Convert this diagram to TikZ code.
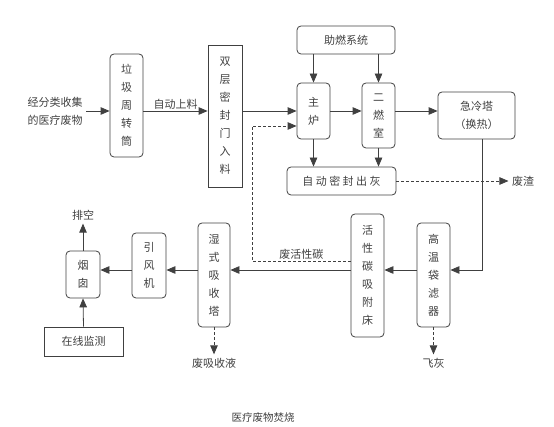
\documentclass[tikz,border=0pt]{standalone}
\usepackage{fontspec}
\setmainfont{Noto Sans CJK SC}
\usepackage{tikz}
\usetikzlibrary{arrows.meta,positioning}

\begin{document}
\begin{tikzpicture}[
    x=1pt, y=-1pt,
    every node/.style={text=black!75, font=\fontsize{11}{18}\selectfont},
    stage/.style={draw=black!75, line width=0.8pt, rounded corners=4pt, align=center, inner sep=0pt},
    plain/.style={draw=black!75, line width=0.8pt, align=center, inner sep=0pt},
    flow/.style={draw=black!75, line width=0.8pt, -{Triangle[length=9pt,width=7.5pt]}},
    waste flow/.style={flow, densely dashed},
    lbl/.style={inner sep=1pt}
]
\useasboundingbox (0,0) rectangle (554,427);
\coordinate (feed) at (0,111);
\coordinate (lane) at (0,270);
\coordinate (back) at (252,261);
\coordinate (back top) at (252,126);
\coordinate (drop) at (482,0);

% Feed line
\node[align=center] (in) at (55,111) {经分类收集\\的医疗废物};
\node[stage, minimum width=33pt, minimum height=103pt] (bin) at (126.5,105.5) {垃\\圾\\周\\转\\筒};
\node[plain, minimum width=34pt, minimum height=142pt] (door) at (225,116) {双\\层\\密\\封\\门\\入\\料};

% Furnaces
\node[stage, minimum width=98pt, minimum height=28pt] (aid) at (346,40) {助燃系统};
\node[stage, minimum width=33pt, minimum height=56pt] (furnace) at (313.5,111) {主\\炉};
\node[stage, minimum width=33pt, minimum height=65pt] (second) at (378.5,115.5) {二\\燃\\室};
\node[stage, minimum width=77pt, minimum height=47pt] (quench) at (476.5,115.5) {急冷塔\\（换热）};
\node[stage, minimum width=109pt, minimum height=28pt] (ash) at (341.5,181) {自~动~密~封~出~灰};
\node (slag) at (523,181) {废渣};

% Flue gas cleaning
\node[stage, minimum width=33pt, minimum height=104pt] (filter) at (433.5,275) {高\\温\\袋\\滤\\器};
\node[stage, minimum width=33pt, minimum height=123pt] (carbon) at (367.5,275.5) {活\\性\\碳\\吸\\附\\床};
\node[stage, minimum width=32pt, minimum height=104pt] (scrubber) at (214,275) {湿\\式\\吸\\收\\塔};
\node[stage, minimum width=34pt, minimum height=65pt] (fan) at (149,265.5) {引\\风\\机};
\node[stage, minimum width=34pt, minimum height=47pt] (chimney) at (83,274.5) {烟\\囱};
\node[plain, minimum width=79pt, minimum height=29pt] (monitor) at (83.5,341.5) {在线监测};
\node (vent) at (83,215) {排空};
\node (fly) at (433.5,363) {飞灰};
\node (liquor) at (214,363) {废吸收液};
\node[font=\fontsize{10.5}{12}\selectfont] (title) at (263,418) {医疗废物焚烧};

% Feed
\draw[flow] (in.east |- feed) -- (bin.west |- feed);
\draw[flow] (bin.east |- feed) -- node[above, lbl] {自动上料} (door.west |- feed);
\draw[flow] (door.east |- feed) -- (furnace.west |- feed);
\draw[flow] (furnace.east |- feed) -- (second.west |- feed);
\draw[flow] (second.east |- feed) -- (quench.west |- feed);
\draw[flow] (aid.south -| furnace) -- (furnace.north);
\draw[flow] (aid.south -| second) -- (second.north);
\draw[flow] (furnace.south) -- (ash.north -| furnace);
\draw[flow] (second.south) -- (ash.north -| second);
\draw[waste flow] (ash.east) -- (slag.west);

% Flue gas
\draw[flow] (quench.south -| drop) |- (filter.east |- lane);
\draw[flow] (filter.west |- lane) -- (carbon.east |- lane);
\draw[flow] (carbon.west |- lane) -- (scrubber.east |- lane);
\draw[flow] (scrubber.west |- lane) -- (fan.east |- lane);
\draw[flow] (fan.west |- lane) -- (chimney.east |- lane);
\draw[flow] (chimney.north) -- (vent.south);
\draw[flow] (monitor.north) -- (chimney.south);
\draw[waste flow] (scrubber.south) -- (liquor.north);
\draw[waste flow] (filter.south) -- (fly.north);

% Spent carbon back to the furnace
\draw[waste flow] (carbon.west |- back) -- node[above, lbl] {废活性碳} (back) -- (back top) -- (furnace.west |- back top);

\end{tikzpicture}
\end{document}
